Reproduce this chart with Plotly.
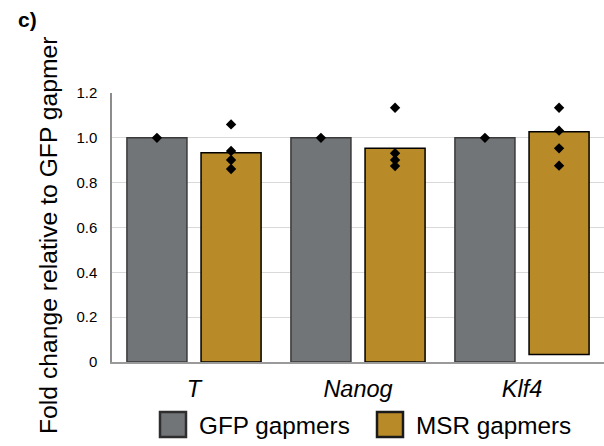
import plotly.graph_objects as go

# ---- data ----
genes = ["T", "Nanog", "Klf4"]
gfp_mean = [1.0, 1.0, 1.0]
msr_mean = [0.934, 0.953, 1.027]
msr_base = [0.0, 0.0, 0.034]
gfp_points = [[1.0], [1.0], [1.0]]
msr_points = [
    [1.060, 0.941, 0.901, 0.861],
    [1.134, 0.931, 0.901, 0.874],
    [1.134, 1.032, 0.953, 0.876],
]
y_ticks = [0, 0.2, 0.4, 0.6, 0.8, 1.0, 1.2]
y_ticktext = ["0", "0.2", "0.4", "0.6", "0.8", "1.0", "1.2"]
series_names = ["GFP gapmers", "MSR gapmers"]

# ---- style ----
FONT = "Arial, Liberation Sans, sans-serif"
GFP_FILL = "#727578"
MSR_FILL = "#B88B28"
GFP_LINE = "#3a3a3a"
MSR_LINE = "#000000"
OFF = 0.226
BW = 0.366

W, H = 604, 446
L, R, T, B = 112, 0, 93, 84
pw, ph = W - L - R, H - T - B

def px(xp):
    return (xp - L) / pw

def py(yp):
    return (H - B - yp) / ph

idx = list(range(len(genes)))

fig = go.Figure()
fig.add_trace(go.Bar(
    x=[i - OFF for i in idx], y=gfp_mean, width=BW,
    marker=dict(color=GFP_FILL, line=dict(color=GFP_LINE, width=1.5)),
    showlegend=False))
fig.add_trace(go.Bar(
    x=[i + OFF for i in idx],
    y=[m - b for m, b in zip(msr_mean, msr_base)], base=msr_base, width=BW,
    marker=dict(color=MSR_FILL, line=dict(color=MSR_LINE, width=1.5)),
    showlegend=False))

gx, gy, mx, my = [], [], [], []
for i in idx:
    for v in gfp_points[i]:
        gx.append(i - OFF); gy.append(v)
    for v in msr_points[i]:
        mx.append(i + OFF); my.append(v)
fig.add_trace(go.Scatter(x=gx + mx, y=gy + my, mode="markers",
                         marker=dict(symbol="diamond", size=8, color="black"),
                         showlegend=False))

fig.update_layout(
    width=W, height=H,
    margin=dict(l=L, r=R, t=T, b=B, pad=0),
    paper_bgcolor="white", plot_bgcolor="white",
    barmode="overlay",
    font=dict(family=FONT, color="black"),
    xaxis=dict(range=[-0.5, 2.5], tickvals=idx, ticktext=genes,
               tickfont=dict(size=23.5, style="italic"),
               showgrid=False, zeroline=False,
               showline=True, linecolor="#9a9a9a", linewidth=1.5,
               ticks="", ticklabelstandoff=5),
    yaxis=dict(range=[0, 1.2], tickvals=y_ticks, ticktext=y_ticktext,
               tickfont=dict(size=15), showgrid=True, gridcolor="#d9d9d9",
               gridwidth=1, zeroline=False,
               showline=True, linecolor="#8c8c8c", linewidth=1.5,
               ticks="", ticklabelstandoff=10),
)

# y title
fig.add_annotation(text="Fold change relative to GFP gapmer", textangle=-90,
                   xref="paper", yref="paper", x=px(49), y=py(235),
                   xanchor="center", yanchor="middle", showarrow=False,
                   font=dict(size=24.7, family=FONT))
# panel label
fig.add_annotation(text="<b>c)</b>", xref="paper", yref="paper",
                   x=px(16), y=py(19), xanchor="left", yanchor="middle",
                   showarrow=False, font=dict(size=21, family=FONT))

# legend (drawn manually)
legend_items = [(series_names[0], GFP_FILL, "#2e2e2e", 160, 197),
                (series_names[1], MSR_FILL, "#1a1a1a", 377, 414)]
for name, fill, line, sx, tx in legend_items:
    fig.add_shape(type="rect", xref="paper", yref="paper",
                  x0=px(sx), x1=px(sx + 26), y0=py(412), y1=py(437),
                  fillcolor=fill, line=dict(color=line, width=2.5))
    fig.add_annotation(text=name, xref="paper", yref="paper",
                       x=px(tx), y=py(425), xanchor="left", yanchor="middle",
                       showarrow=False, font=dict(size=24.3, family=FONT))

fig.write_html("out.html")
